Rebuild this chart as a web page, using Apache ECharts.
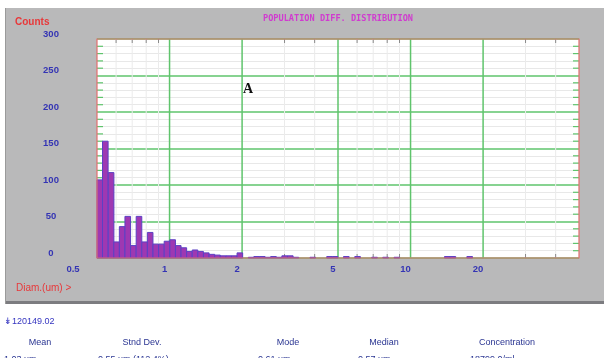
<!DOCTYPE html>
<html><head><meta charset="utf-8">
<script src="https://cdn.jsdelivr.net/npm/echarts@6/dist/echarts.min.js"></script>
<style>html,body{margin:0;padding:0;background:#fff}#c{width:604px;height:358px}</style>
</head><body><div id="c"></div>
<script>
// ---- data ----
// lower edge (um) of each histogram channel that has counts
const binLowerDiam = [0.500,0.527,0.557,0.587,0.619,0.653,0.689,0.727,0.767,0.809,
  0.854,0.901,0.950,1.003,1.058,1.116,1.177,1.242,1.310,1.383,
  1.459,1.539,1.623,1.713,1.807,1.906,2.122,2.238,2.361,2.491,
  2.628,2.773,2.925,3.086,3.256,3.825,4.490,4.740,5.270,5.870,
  6.900,7.670,8.540,13.83,14.59,17.13];
const binCounts = [107,160,117,22,43,57,17,57,22,35,
  19,19,23,25,17,14,9,11,9,7,
  5,4,3,3,3,7,1,2,2,1,
  2,1,3,3,1,1,2,2,2,2,
  1,1,1,2,2,2];
const BINS_PER_DECADE = 43;
const xTickLabels = [0.5, 1, 2, 5, 10, 20];
const majorGridDiam = [1, 2, 5, 10, 20];
const minorGridDiam = [0.6, 0.7, 0.8, 0.9, 3, 4, 6, 7, 8, 9, 30, 40];
const yMinorTicks = [10,20,30,40,60,70,80,90,110,120,130,140,160,170,180,190,210,220,230,240,260,270,280,290];
const X_MIN = 0.5, X_MAX = 50, Y_MIN = 0, Y_MAX = 300, Y_STEP = 50;
const statHeaders = ['Mean', 'Stnd Dev.', 'Mode', 'Median', 'Concentration'];
const statValues = ['1.03 um', '0.55 um (112.4%)', '0.61 um', '0.57 um', '18799.0/ml'];
const sampleId = '120149.02';
const chartTitle = 'POPULATION DIFF. DISTRIBUTION';

// ---- styles ----
const BLUE = '#3434b4';
const RED = '#e8383a';
const GREEN = '#5fc46c';
const NARROW = "'Liberation Sans Narrow','Liberation Sans',Arial,sans-serif";
const binRatio = Math.pow(10, 1 / BINS_PER_DECADE);
const labelShift = {0.5: -24}; // the instrument draws its first label outside the frame
const headerX = [40, 142, 288, 384, 507];
const valueX = [4, 98, 258, 358, 470];

const barData = binLowerDiam.map((d, i) => [d, d * binRatio, binCounts[i]]);

const chart = echarts.init(document.getElementById('c'), null, {renderer: 'canvas'});

const graphics = [
  {type: 'rect', z: -10, shape: {x: 5, y: 8, width: 610, height: 296}, style: {fill: '#b9b9ba'}},
  {type: 'rect', z: -9, shape: {x: 5, y: 301, width: 610, height: 3}, style: {fill: '#7c7c80'}},
  {type: 'rect', z: -9, shape: {x: 5, y: 8, width: 1, height: 296}, style: {fill: '#9a9a9a'}},
  {type: 'text', x: 15, y: 22, style: {text: 'Counts', fill: RED, font: 'bold 10px ' + NARROW, verticalAlign: 'middle'}},
  {type: 'text', x: 338, y: 19, style: {text: chartTitle, fill: '#d03ccf', font: "bold 8.6px 'DejaVu Sans Mono',monospace", align: 'center', verticalAlign: 'middle'}},
  {type: 'text', x: 16, y: 288, style: {text: 'Diam.(um) >', fill: RED, font: '10px ' + NARROW, verticalAlign: 'middle'}},
  {type: 'text', x: 248, y: 89, z: 100, style: {text: 'A', fill: '#111', font: "bold 14px 'Liberation Serif',serif", align: 'center', verticalAlign: 'middle'}},
  {type: 'text', x: 4, y: 322, style: {text: '\u21A1' + sampleId, fill: '#3535c0', font: '9px ' + NARROW, verticalAlign: 'middle'}}
];
statHeaders.forEach((h, i) => graphics.push({type: 'text', x: headerX[i], y: 343,
  style: {text: h, fill: '#2a3592', font: '9px ' + NARROW, align: 'center', verticalAlign: 'middle'}}));
statValues.forEach((v, i) => graphics.push({type: 'text', x: valueX[i], y: 355,
  style: {text: v, fill: '#2a3592', font: '9px ' + NARROW, verticalAlign: 'top'}}));

const option = {
  animation: false,
  backgroundColor: '#ffffff',
  graphic: {elements: graphics},
  grid: {left: 97, top: 39, width: 482, height: 219, show: true, backgroundColor: '#ffffff', borderWidth: 0, z: 0},
  xAxis: {type: 'log', logBase: 10, min: X_MIN, max: X_MAX,
    axisLine: {show: false}, axisTick: {show: false}, axisLabel: {show: false}, splitLine: {show: false}},
  yAxis: {type: 'value', min: Y_MIN, max: Y_MAX, interval: Y_STEP,
    axisLine: {show: false}, axisTick: {show: false},
    minorTick: {show: false, splitNumber: 5},
    axisLabel: {color: BLUE, fontFamily: NARROW, fontSize: 9.5, fontWeight: 'bold', align: 'center', margin: 46, verticalAlign: 'bottom'},
    splitLine: {show: true, lineStyle: {color: GREEN, width: 1.5}},
    minorSplitLine: {show: true, lineStyle: {color: '#e8e8e8', width: 1}}},
  series: [
    { // minor vertical lines + frame ticks
      type: 'custom', z: 1, silent: true,
      data: minorGridDiam.map(d => [d]),
      encode: {x: 0},
      renderItem: (params, api) => {
        const d = api.value(0);
        const b = api.coord([d, Y_MIN]), t = api.coord([d, Y_MAX]);
        return {type: 'group', children: [
          {type: 'line', shape: {x1: b[0], y1: b[1], x2: t[0], y2: t[1]}, style: {stroke: '#ebebeb', lineWidth: 1}},
          {type: 'line', shape: {x1: t[0], y1: t[1], x2: t[0], y2: t[1] + 4}, style: {stroke: '#8a8a8a', lineWidth: 1}},
          {type: 'line', shape: {x1: b[0], y1: b[1], x2: b[0], y2: b[1] - 4}, style: {stroke: '#8a8a8a', lineWidth: 1}}
        ]};
      }
    },
    { // major vertical green lines
      type: 'custom', z: 2, silent: true,
      data: majorGridDiam.map(d => [d]),
      encode: {x: 0},
      renderItem: (params, api) => {
        const d = api.value(0);
        const b = api.coord([d, Y_MIN]), t = api.coord([d, Y_MAX]);
        return {type: 'line', shape: {x1: b[0], y1: b[1], x2: t[0], y2: t[1]}, style: {stroke: GREEN, lineWidth: 1.5}};
      }
    },
    { // green inner ticks on left and right frame edges
      type: 'custom', z: 3, silent: true,
      data: yMinorTicks.map(v => [X_MIN, v]),
      encode: {x: 0, y: 1},
      renderItem: (params, api) => {
        const l = api.coord([X_MIN, api.value(1)]);
        const r = api.coord([X_MAX, api.value(1)]);
        return {type: 'group', children: [
          {type: 'line', shape: {x1: l[0], y1: l[1], x2: l[0] + 6, y2: l[1]}, style: {stroke: GREEN, lineWidth: 1.2}},
          {type: 'line', shape: {x1: r[0], y1: r[1], x2: r[0] - 6, y2: r[1]}, style: {stroke: GREEN, lineWidth: 1.2}}
        ]};
      }
    },
    { // histogram bars
      type: 'custom', z: 5,
      data: barData,
      encode: {x: [0, 1], y: 2},
      renderItem: (params, api) => {
        const p0 = api.coord([api.value(0), Y_MIN]);
        const p1 = api.coord([api.value(1), api.value(2)]);
        return {type: 'rect', shape: {x: p0[0], y: p1[1], width: p1[0] - p0[0], height: p0[1] - p1[1]},
          style: {fill: '#9e38b2', stroke: '#5c40c4', lineWidth: 1}};
      }
    },
    { // red frame
      type: 'custom', z: 8, silent: true,
      data: [[X_MIN, Y_MIN]],
      encode: {x: 0, y: 1},
      renderItem: (params, api) => {
        const a = api.coord([X_MIN, Y_MAX]), b = api.coord([X_MAX, Y_MIN]);
        return {type: 'rect', shape: {x: a[0], y: a[1], width: b[0] - a[0], height: b[1] - a[1]},
          style: {fill: null, stroke: '#e36e6e', lineWidth: 1.2}};
      }
    },
    { // x tick labels
      type: 'custom', z: 6, silent: true,
      data: xTickLabels.map(v => [v]),
      encode: {x: 0},
      renderItem: (params, api) => {
        const v = api.value(0);
        const p = api.coord([v, Y_MIN]);
        const dx = labelShift[v] !== undefined ? labelShift[v] : -5;
        return {type: 'text', x: p[0] + dx, y: p[1] + 11,
          style: {text: String(v), fill: BLUE, font: 'bold 9.5px ' + NARROW, align: 'center', verticalAlign: 'middle'}};
      }
    }
  ]
};
chart.setOption(option);
</script></body></html>
